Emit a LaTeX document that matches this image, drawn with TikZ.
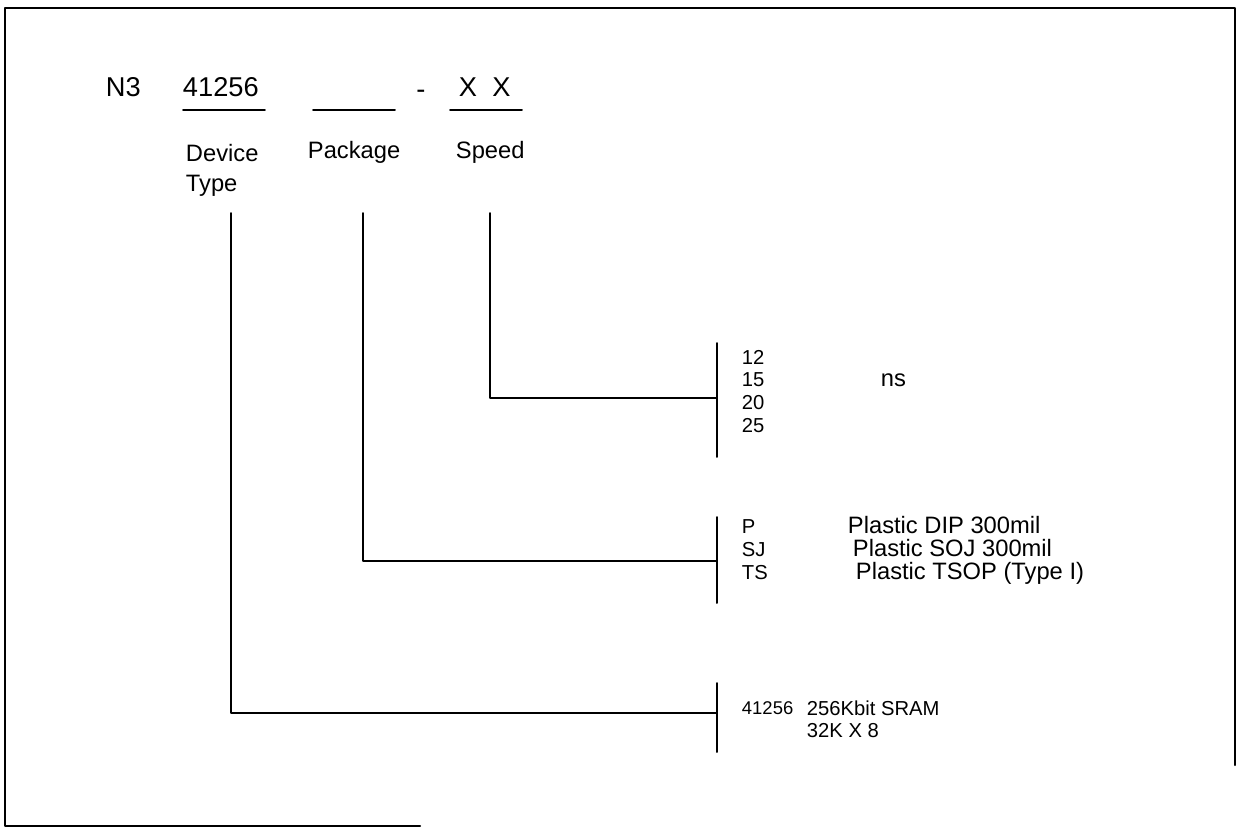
\documentclass[tikz,border=0pt]{standalone}
\usepackage{fontspec}
\setmainfont{Liberation Sans}
\begin{document}
\begin{tikzpicture}[x=0.02cm,y=-0.02cm,line join=round,line cap=round,line width=1.1pt,
  big/.style={font=\fontsize{15.5}{18}\selectfont,inner sep=0pt,anchor=west},
  lbl/.style={font=\fontsize{13.5}{17.5}\selectfont,inner sep=0pt,anchor=west,align=left},
  txt/.style={font=\fontsize{11.5}{13}\selectfont,inner sep=0pt,anchor=west,align=left}]
\useasboundingbox (0,0) rectangle (1239,829);
% frame
\draw[line width=1.3pt] (420,826)--(5,826)--(5,8)--(1235,8)--(1235,765);
% part number
\node[big] (n3) at (105,87) {N3};
\node[big] (num) at (182,87) {41256};
\node[big,anchor=center] (dash) at (421,94) {-};
\node[big] (xx) at (458,87) {X\ \ X};
\path
(183,110)coordinate(u1a) (265,110)coordinate(u1b)
(313,110)coordinate(u2a) (395,110)coordinate(u2b)
(450,110)coordinate(u3a) (522,110)coordinate(u3b);
\draw (u1a)--(u1b) (u2a)--(u2b) (u3a)--(u3b);
\node[lbl,anchor=north west] (dtype) at (185,143) {Device\\Type};
\node[lbl] (pkg) at (307,152) {Package};
\node[lbl] (spd) at (455,152) {Speed};
% leader lines and brackets
\path
(231,213)coordinate(D0) (231,713)coordinate(D1) (717,713)coordinate(D2)
(717,683)coordinate(Dt) (717,752)coordinate(Db)
(363,213)coordinate(P0) (363,561)coordinate(P1) (717,561)coordinate(P2)
(717,517)coordinate(Pt) (717,603)coordinate(Pb)
(490,213)coordinate(S0) (490,398)coordinate(S1) (717,398)coordinate(S2)
(717,343)coordinate(St) (717,457)coordinate(Sb);
\draw (D0)--(D1)--(D2) (Dt)--(Db);
\draw (P0)--(P1)--(P2) (Pt)--(Pb);
\draw (S0)--(S1)--(S2) (St)--(Sb);
% speed codes
\foreach \v [count=\i] in {12,15,20,25}
\node[txt] (s\i) at (741,{334+23*\i}) {\v};
\node[lbl] (ns) at (880,380) {ns};
% package codes
\foreach \c/\d/\x [count=\i] in {P/{Plastic DIP 300mil}/847,SJ/{Plastic SOJ 300mil}/852,TS/{Plastic TSOP (Type I)}/855}
{\node[txt] (p\i) at (741,{504+23*\i}) {\c};
 \node[lbl,anchor=base west,text depth=0pt] (pd\i) at (\x,{510+23*\i}) {\d};}
% device codes
\node[txt,font=\fontsize{10.5}{13}\selectfont] (dc) at (741,708) {41256};
\node[txt] (dd1) at (806,708) {256Kbit SRAM};
\node[txt] (dd2) at (806,731) {32K X 8};
\end{tikzpicture}
\end{document}
